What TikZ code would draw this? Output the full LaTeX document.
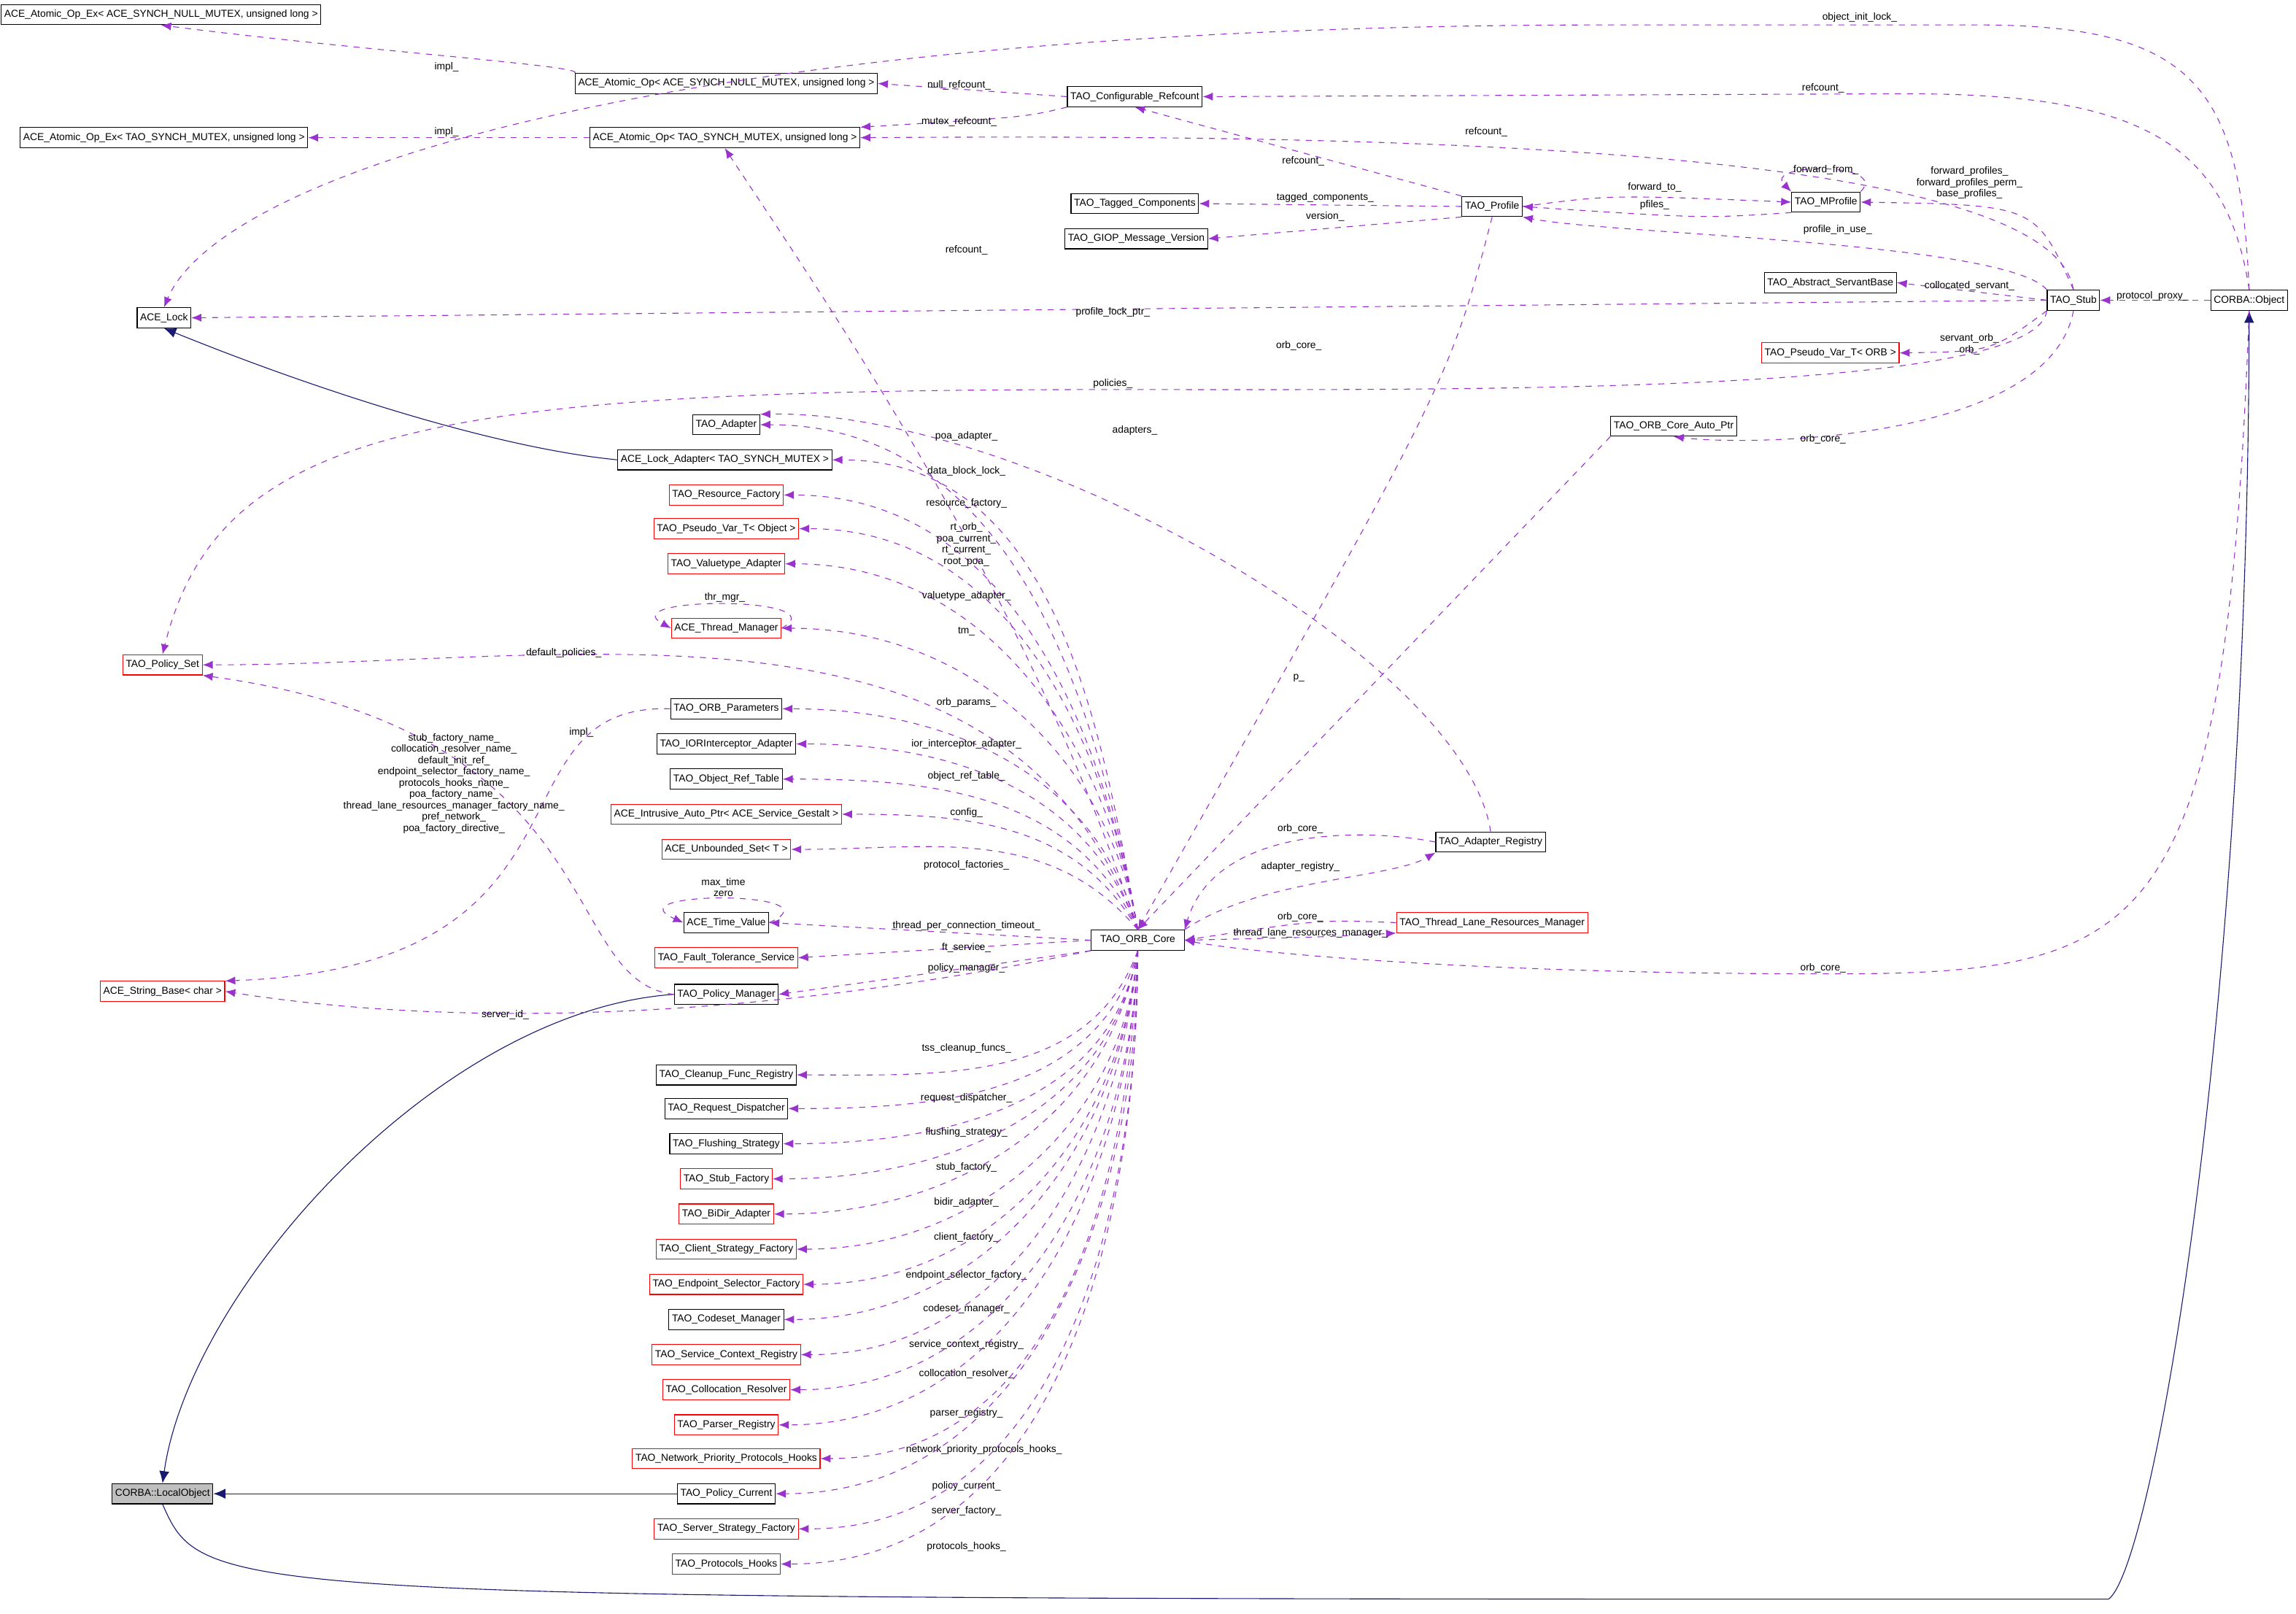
\documentclass[tikz,border=0pt]{standalone}
\usepackage{fontspec}
\setmainfont{Liberation Sans}
\usetikzlibrary{arrows.meta}
\definecolor{memcol}{HTML}{9A32CD}
\definecolor{inhcol}{HTML}{191970}
\tikzset{
	cls/.style={draw=black,fill=white,inner sep=1.5pt,minimum height=10pt,font=\fontsize{5}{6}\selectfont},
	redcls/.style={cls,draw=red},
	graycls/.style={cls,fill=black!25},
	mem/.style={draw=memcol,dashed,-{Latex[length=5pt,width=4pt]}},
	inh/.style={draw=inhcol,-{Latex[length=6pt,width=5pt]}},
	lbl/.style={inner sep=0pt,align=center,font=\fontsize{5}{5.6}\selectfont}
}
\begin{document}
\begin{tikzpicture}[x=0.0255cm,y=-0.0255cm]
	\useasboundingbox (0,0) rectangle (1568,1101.7);
	% classes
	\node[cls] (aoxn) at (110,10) {ACE\_Atomic\_Op\_Ex< ACE\_SYNCH\_NULL\_MUTEX, unsigned long >};
	\node[cls] (aon) at (496,57) {ACE\_Atomic\_Op< ACE\_SYNCH\_NULL\_MUTEX, unsigned long >};
	\node[cls] (cref) at (775,66) {TAO\_Configurable\_Refcount};
	\node[cls] (aoxm) at (112,94) {ACE\_Atomic\_Op\_Ex< TAO\_SYNCH\_MUTEX, unsigned long >};
	\node[cls] (aom) at (495,94) {ACE\_Atomic\_Op< TAO\_SYNCH\_MUTEX, unsigned long >};
	\node[cls] (tagc) at (775,139) {TAO\_Tagged\_Components};
	\node[cls] (prof) at (1019,141) {TAO\_Profile};
	\node[cls] (mprof) at (1247,138) {TAO\_MProfile};
	\node[cls] (giop) at (776,163) {TAO\_GIOP\_Message\_Version};
	\node[cls] (asb) at (1250,193) {TAO\_Abstract\_ServantBase};
	\node[cls] (stub) at (1416,205) {TAO\_Stub};
	\node[cls] (obj) at (1536,205) {CORBA::Object};
	\node[cls] (lock) at (112,217) {ACE\_Lock};
	\node[redcls] (pvorb) at (1250,241) {TAO\_Pseudo\_Var\_T< ORB >};
	\node[cls] (adap) at (496,290) {TAO\_Adapter};
	\node[cls] (oap) at (1143,291) {TAO\_ORB\_Core\_Auto\_Ptr};
	\node[cls] (lockad) at (495,314) {ACE\_Lock\_Adapter< TAO\_SYNCH\_MUTEX >};
	\node[redcls] (resf) at (496,338) {TAO\_Resource\_Factory};
	\node[redcls] (pvobj) at (496,361) {TAO\_Pseudo\_Var\_T< Object >};
	\node[redcls] (vta) at (496,385) {TAO\_Valuetype\_Adapter};
	\node[redcls] (thm) at (496,429) {ACE\_Thread\_Manager};
	\node[redcls] (pset) at (111,454) {TAO\_Policy\_Set};
	\node[cls] (orbp) at (496,484) {TAO\_ORB\_Parameters};
	\node[cls] (ior) at (496,508) {TAO\_IORInterceptor\_Adapter};
	\node[cls] (ort) at (496,532) {TAO\_Object\_Ref\_Table};
	\node[redcls] (iap) at (496,556) {ACE\_Intrusive\_Auto\_Ptr< ACE\_Service\_Gestalt >};
	\node[redcls] (ubs) at (496,580) {ACE\_Unbounded\_Set< T >};
	\node[cls] (tv) at (496,630) {ACE\_Time\_Value};
	\node[cls,minimum width=46pt] (orb) at (777,642) {TAO\_ORB\_Core};
	\node[cls] (areg) at (1018,575) {TAO\_Adapter\_Registry};
	\node[redcls] (tlrm) at (1019,630) {TAO\_Thread\_Lane\_Resources\_Manager};
	\node[redcls] (fts) at (496,654) {TAO\_Fault\_Tolerance\_Service};
	\node[redcls] (strb) at (111,677) {ACE\_String\_Base< char >};
	\node[cls] (polm) at (496,679) {TAO\_Policy\_Manager};
	\node[cls] (cfr) at (496,734) {TAO\_Cleanup\_Func\_Registry};
	\node[cls] (rd) at (496,757) {TAO\_Request\_Dispatcher};
	\node[cls] (fs) at (496,781) {TAO\_Flushing\_Strategy};
	\node[redcls] (sf) at (496,805) {TAO\_Stub\_Factory};
	\node[redcls] (bda) at (496,829) {TAO\_BiDir\_Adapter};
	\node[redcls] (csf) at (496,853) {TAO\_Client\_Strategy\_Factory};
	\node[redcls] (esf) at (496,877) {TAO\_Endpoint\_Selector\_Factory};
	\node[cls] (csm) at (496,901) {TAO\_Codeset\_Manager};
	\node[redcls] (scr) at (496,925) {TAO\_Service\_Context\_Registry};
	\node[redcls] (cres) at (496,949) {TAO\_Collocation\_Resolver};
	\node[redcls] (preg) at (496,973) {TAO\_Parser\_Registry};
	\node[redcls] (npph) at (496,996) {TAO\_Network\_Priority\_Protocols\_Hooks};
	\node[graycls] (local) at (111,1020) {CORBA::LocalObject};
	\node[cls] (pcur) at (496,1020) {TAO\_Policy\_Current};
	\node[redcls] (ssf) at (496,1044) {TAO\_Server\_Strategy\_Factory};
	\node[redcls] (phk) at (496,1068) {TAO\_Protocols\_Hooks};
	% inheritance
	\draw[inh] (lockad.west) .. controls (330,305) and (200,260) .. (lock.south);
	\draw[inh] (polm.west) .. controls (300,690) and (130,880) .. (local.north);
	\draw[inh] (pcur.west) -- (local.east);
	\coordinate (bend) at (1440,1092);
	\draw[inh] (local.south) .. controls (140,1092) .. (bend) .. controls (1470,1070) and (1535,700) .. (obj.south);
	% members, top part
	\coordinate (toparc) at (1100,17);
	\draw[mem] (obj.north) .. controls (1530,60) and (1500,17) .. (1350,17) -- (toparc) .. controls (450,17) and (150,120) .. (lock.north) node[lbl,at={(1270,12)}] {object\_init\_lock\_};
	\draw[mem] (obj.north) .. controls (1520,90) and (1450,64) .. (1300,64) -- (cref.east) node[lbl,at={(1245,60)}] {refcount\_};
	\draw[mem] (stub.north) .. controls (1400,95) and (900,92) .. (aom.east) node[lbl,at={(1015,90)}] {refcount\_};
	\draw[mem] (aon.north west) .. controls (400,45) and (250,35) .. (aoxn.south) node[lbl,at={(305,46)}] {impl\_};
	\draw[mem] (cref.west) -- (aon.east) node[lbl,at={(655,58)}] {null\_refcount\_};
	\draw[mem] (cref.south west) .. controls (700,80) .. (aom.north east) node[lbl,at={(655,83)}] {mutex\_refcount\_};
	\draw[mem] (aom.west) -- (aoxm.east) node[lbl,at={(305,90)}] {impl\_};
	\draw[mem] (prof.north west) -- (cref.south) node[lbl,at={(890,110)}] {refcount\_};
	\draw[mem] (prof.west) -- (tagc.east) node[lbl,at={(905,135)}] {tagged\_components\_};
	\draw[mem] (prof.south west) -- (giop.east) node[lbl,at={(905,148)}] {version\_};
	\draw[mem] (prof.east) .. controls +(60,-8) .. (mprof.west) node[lbl,at={(1130,128)}] {forward\_to\_};
	\draw[mem] (mprof.south west) .. controls +(-60,4) .. (prof.east) node[lbl,at={(1130,140)}] {pfiles\_};
	\draw[mem] (mprof.north east) .. controls +(20,-20) and +(-20,-20) .. (mprof.north west) node[lbl,at={(1247,116)}] {forward\_from\_};
	\draw[mem] (stub.north) .. controls (1390,140) .. (mprof.east) node[lbl,at={(1345,125)}] {forward\_profiles\_\\forward\_profiles\_perm\_\\base\_profiles\_};
	\draw[mem] (stub.north west) .. controls (1370,165) and (1100,160) .. (prof.south east) node[lbl,at={(1255,157)}] {profile\_in\_use\_};
	\draw[mem] (stub.west) -- (asb.east) node[lbl,at={(1345,195)}] {collocated\_servant\_};
	\draw[mem] (obj.west) -- (stub.east) node[lbl,at={(1470,202)}] {protocol\_proxy\_};
	\draw[mem] (stub.west) -- (lock.east) node[lbl,at={(760,213)}] {profile\_lock\_ptr\_};
	\draw[mem] (stub.south west) .. controls (1360,240) .. (pvorb.east) node[lbl,at={(1345,235)}] {servant\_orb\_\\orb\_};
	\draw[mem] (stub.south west) .. controls (1390,270) and (1000,266) .. (760,266) .. controls (300,266) and (150,290) .. (pset.north) node[lbl,at={(760,262)}] {policies\_};
	\draw[mem] (stub.south) .. controls (1400,300) and (1200,305) .. (oap.south) node[lbl,at={(1245,300)}] {orb\_core\_};
	\draw[mem] (oap.south west) -- (orb.north) node[lbl,at={(887,463)}] {p\_};
	\draw[mem] (prof.south) .. controls (990,260) .. (orb.north) node[lbl,at={(887,236)}] {orb\_core\_};
	\draw[mem] (orb.north) .. controls (700,400) and (560,200) .. (aom.south) node[lbl,at={(660,171)}] {refcount\_};
	\draw[mem] (areg.north) .. controls (1000,450) and (700,280) .. (adap.north east) node[lbl,at={(775,294)}] {adapters\_};
	% members, ORB core above
	\draw[mem] (orb.north) to[out=100,in=0] (adap.east) node[lbl,at={(660,298)}] {poa\_adapter\_};
	\draw[mem] (orb.north) to[out=100,in=0] (lockad.east) node[lbl,at={(660,322)}] {data\_block\_lock\_};
	\draw[mem] (orb.north) to[out=100,in=0] (resf.east) node[lbl,at={(660,344)}] {resource\_factory\_};
	\draw[mem] (orb.north) to[out=100,in=0] (pvobj.east) node[lbl,at={(660,372)}] {rt\_orb\_\\poa\_current\_\\rt\_current\_\\root\_poa\_};
	\draw[mem] (orb.north) to[out=100,in=0] (vta.east) node[lbl,at={(660,407)}] {valuetype\_adapter\_};
	\draw[mem] (thm.east) .. controls +(40,-22) and +(-40,-22) .. (thm.west) node[lbl,at={(495,408)}] {thr\_mgr\_};
	\draw[mem] (orb.north) to[out=100,in=0] (thm.east) node[lbl,at={(660,431)}] {tm\_};
	\draw[mem] (orb.north) to[out=110,in=0] (pset.east) node[lbl,at={(385,446)}] {default\_policies\_};
	\draw[mem] (polm.west) .. controls (380,670) and (420,500) .. (pset.south east) node[lbl,at={(397,500)}] {impl\_};
	\draw[mem] (orb.north) to[out=105,in=0] (orbp.east) node[lbl,at={(660,480)}] {orb\_params\_};
	\draw[mem] (orbp.west) .. controls (330,480) and (420,660) .. (strb.north east) node[lbl,at={(310,535)}] {stub\_factory\_name\_\\collocation\_resolver\_name\_\\default\_init\_ref\_\\endpoint\_selector\_factory\_name\_\\protocols\_hooks\_name\_\\poa\_factory\_name\_\\thread\_lane\_resources\_manager\_factory\_name\_\\pref\_network\_\\poa\_factory\_directive\_};
	\draw[mem] (orb.north) to[out=110,in=0] (ior.east) node[lbl,at={(660,508)}] {ior\_interceptor\_adapter\_};
	\draw[mem] (orb.north) to[out=115,in=0] (ort.east) node[lbl,at={(660,530)}] {object\_ref\_table\_};
	\draw[mem] (orb.north) to[out=120,in=0] (iap.east) node[lbl,at={(660,555)}] {config\_};
	\draw[mem] (orb.north) to[out=130,in=0] (ubs.east) node[lbl,at={(660,591)}] {protocol\_factories\_};
	\draw[mem] (tv.east) .. controls +(50,-22) and +(-50,-22) .. (tv.west) node[lbl,at={(494,606)}] {max\_time\\zero};
	\draw[mem] (orb.west) -- (tv.east) node[lbl,at={(660,632)}] {thread\_per\_connection\_timeout\_};
	\draw[mem] (orb.west) -- (fts.east) node[lbl,at={(660,647)}] {ft\_service\_};
	\draw[mem] (orb.south west) -- (polm.east) node[lbl,at={(660,661)}] {policy\_manager\_};
	\draw[mem] (orb.south west) .. controls (500,700) and (300,700) .. (strb.east) node[lbl,at={(345,693)}] {server\_id\_};
	% members, ORB core below
	\draw[mem] (orb.south) to[out=-110,in=0] (cfr.east) node[lbl,at={(660,716)}] {tss\_cleanup\_funcs\_};
	\draw[mem] (orb.south) to[out=-105,in=0] (rd.east) node[lbl,at={(660,750)}] {request\_dispatcher\_};
	\draw[mem] (orb.south) to[out=-100,in=0] (fs.east) node[lbl,at={(660,773)}] {flushing\_strategy\_};
	\draw[mem] (orb.south) to[out=-100,in=0] (sf.east) node[lbl,at={(660,797)}] {stub\_factory\_};
	\draw[mem] (orb.south) to[out=-100,in=0] (bda.east) node[lbl,at={(660,821)}] {bidir\_adapter\_};
	\draw[mem] (orb.south) to[out=-95,in=0] (csf.east) node[lbl,at={(660,845)}] {client\_factory\_};
	\draw[mem] (orb.south) to[out=-95,in=0] (esf.east) node[lbl,at={(660,871)}] {endpoint\_selector\_factory\_};
	\draw[mem] (orb.south) to[out=-95,in=0] (csm.east) node[lbl,at={(660,894)}] {codeset\_manager\_};
	\draw[mem] (orb.south) to[out=-95,in=0] (scr.east) node[lbl,at={(660,918)}] {service\_context\_registry\_};
	\draw[mem] (orb.south) to[out=-92,in=0] (cres.east) node[lbl,at={(660,938)}] {collocation\_resolver\_};
	\draw[mem] (orb.south) to[out=-92,in=0] (preg.east) node[lbl,at={(660,965)}] {parser\_registry\_};
	\draw[mem] (orb.south) to[out=-92,in=0] (npph.east) node[lbl,at={(672,990)}] {network\_priority\_protocols\_hooks\_};
	\draw[mem] (orb.south) to[out=-90,in=0] (pcur.east) node[lbl,at={(660,1015)}] {policy\_current\_};
	\draw[mem] (orb.south) to[out=-90,in=0] (ssf.east) node[lbl,at={(660,1032)}] {server\_factory\_};
	\draw[mem] (orb.south) to[out=-90,in=0] (phk.east) node[lbl,at={(660,1056)}] {protocols\_hooks\_};
	% members, right of ORB core
	\draw[mem] (areg.west) .. controls (930,565) and (830,565) .. (orb.north east) node[lbl,at={(888,566)}] {orb\_core\_};
	\draw[mem] (orb.north east) .. controls (860,600) and (950,600) .. (areg.south west) node[lbl,at={(888,592)}] {adapter\_registry\_};
	\draw[mem] (tlrm.west) .. controls (900,628) .. (orb.east) node[lbl,at={(888,626)}] {orb\_core\_};
	\draw[mem] (orb.east) .. controls (900,640) .. (tlrm.south west) node[lbl,at={(895,637)}] {thread\_lane\_resources\_manager\_};
	\draw[mem] (obj.south) .. controls (1520,640) and (1470,665) .. (1250,665) .. controls (1000,665) and (850,650) .. (orb.east) node[lbl,at={(1245,661)}] {orb\_core\_};
\end{tikzpicture}
\end{document}
